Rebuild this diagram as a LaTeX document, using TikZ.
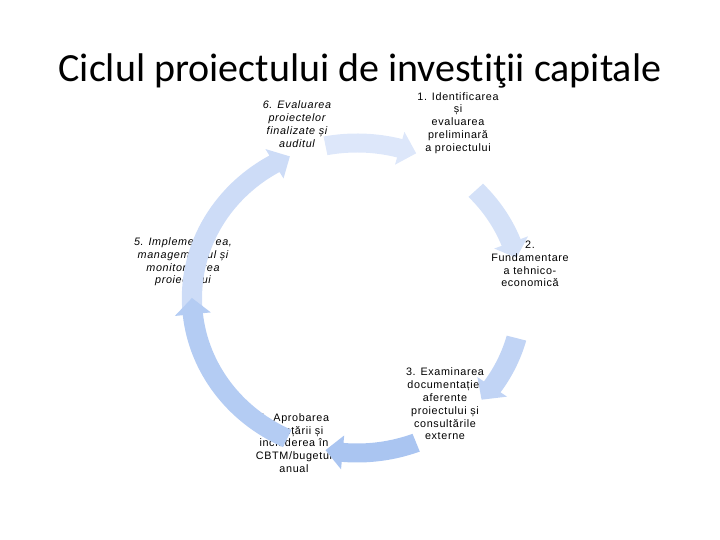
\documentclass[tikz,border=0pt]{standalone}
\usepackage{fontspec}
\setmainfont{Liberation Sans}
\newfontfamily\titlefont[Ligatures=NoCommon]{Carlito}
\newfontfamily\phasefont[LetterSpace=6]{Liberation Sans}
\definecolor{arrowA}{RGB}{221,231,250}
\definecolor{arrowB}{RGB}{212,225,248}
\definecolor{arrowC}{RGB}{193,212,245}
\definecolor{arrowD}{RGB}{170,197,241}
\definecolor{arrowE}{RGB}{180,204,243}
\definecolor{arrowF}{RGB}{205,220,247}
% one curved arrow of the cycle: from angle #1 to angle #2 (clockwise)
\newcommand{\cyclearrow}[3]{%
\fill[#3] (#1:164.5) arc[start angle=#1, end angle={#2+6}, radius=164.5]
  -- ({#2+6}:172) -- (#2:155) -- ({#2+6}:138)
  -- ({#2+6}:145.5) arc[start angle={#2+6}, end angle=#1, radius=145.5] -- cycle;}
\begin{document}
\begin{tikzpicture}[x=1pt,y=1pt,
phase/.style={
% the step texts:
align=center,
inner sep=0pt,
font=\phasefont\fontsize{10.8}{12.8}\selectfont
},
phaseit/.style={
phase,
font=\phasefont\itshape\fontsize{10.8}{12.8}\selectfont
}
]
\useasboundingbox (0,0) rectangle (720,540);
\node (title) [anchor=base,font=\titlefont\fontsize{40}{46}\selectfont] at (360,458) {Ciclul proiectului de investiţii capitale};
\node (idf) [phase] at (458,417) {1. Identificarea\\și\\evaluarea\\preliminară\\a proiectului};
\node (exam) [phase] at (445,136) {3. Examinarea\\documentației\\aferente\\proiectului și\\consultările\\externe};
\node (aprob) [phase] at (294,97) {4. Aprobarea\\finanțării și\\includerea în\\CBTM/bugetul\\anual};
\node (impl) [phaseit] at (183,278) {5. Implementarea,\\managementul și\\monitorizarea\\proiectului};
\node (eval) [phaseit] at (297,416) {6. Evaluarea\\proiectelor\\finalizate și\\auditul};
\begin{scope}[shift={(357,242)},xscale=1.065]
\cyclearrow{101}{69}{arrowA}
\cyclearrow{44}{15}{arrowB}
\cyclearrow{-15}{-41}{arrowC}
\cyclearrow{-69}{-101}{arrowD}
\cyclearrow{185}{114}{arrowF}
\cyclearrow{-115}{-180}{arrowE}
\end{scope}
\node (fund) [phase] at (530,276) {2.\\Fundamentare\\a tehnico-\\economică};
\end{tikzpicture}
\end{document}
